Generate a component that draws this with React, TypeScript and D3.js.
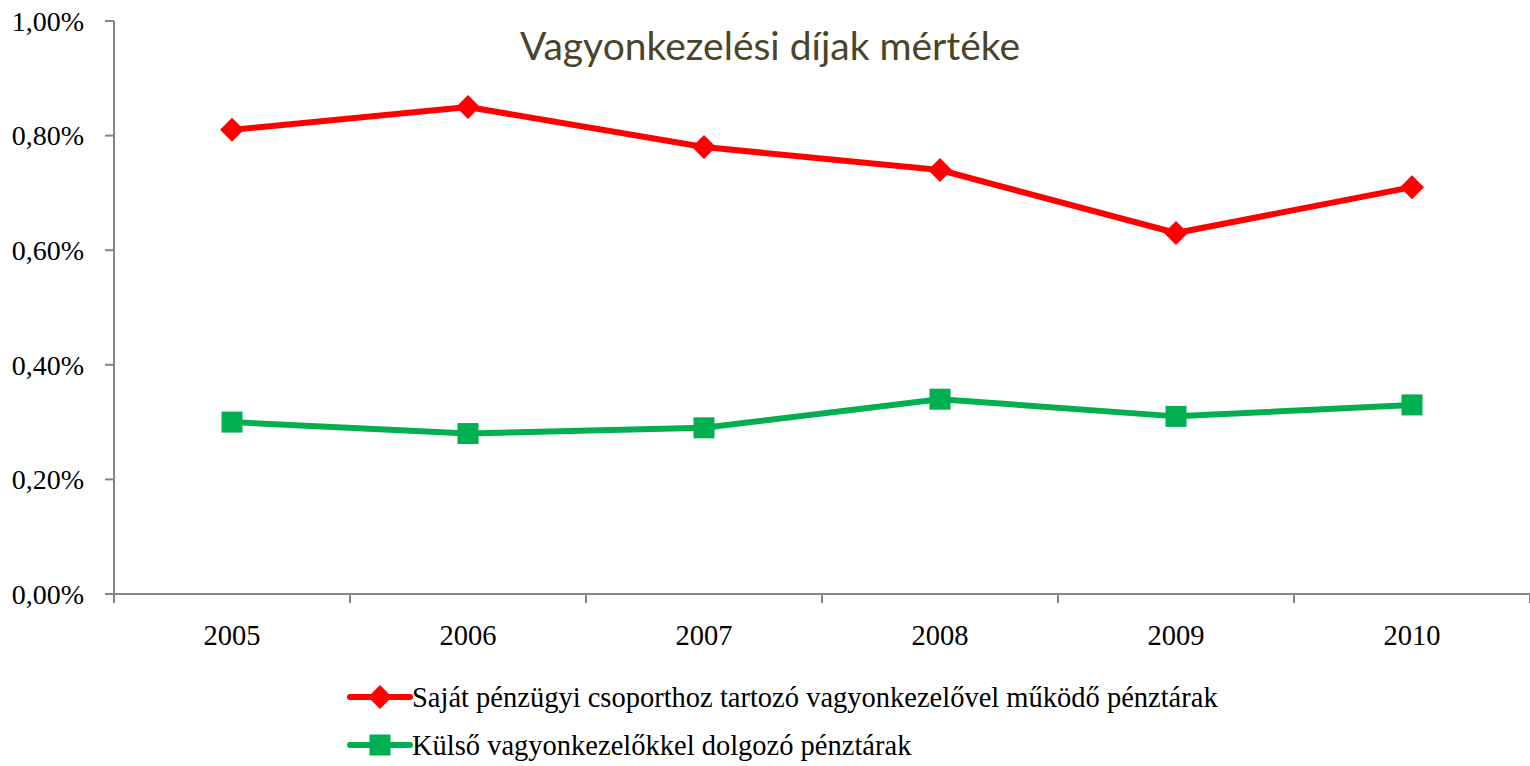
import React from "react";
import * as d3 from "d3";

const years = ["2005", "2006", "2007", "2008", "2009", "2010"];
const sajat = [0.81, 0.85, 0.78, 0.74, 0.63, 0.71];
const kulso = [0.30, 0.28, 0.29, 0.34, 0.31, 0.33];
const yTicks = [0, 0.2, 0.4, 0.6, 0.8, 1.0];
const seriesNames = [
  "Saját pénzügyi csoporthoz tartozó vagyonkezelővel működő pénztárak",
  "Külső vagyonkezelőkkel dolgozó pénztárak",
];
const title = "Vagyonkezelési díjak mértéke";

const W = 1530, H = 766;
const left = 114, right = 1530, top = 21, bottom = 594;
const RED = "#FF0000", GREEN = "#00B050";

export default function App() {
  const x = d3.scaleBand<string>().domain(years).range([left, right]);
  const y = d3.scaleLinear().domain([0, 1]).range([bottom, top]);
  const line = d3
    .line<number>()
    .x((_, i) => (x(years[i]) as number) + x.bandwidth() / 2)
    .y((d) => y(d));
  const fmt = (v: number) => v.toFixed(2).replace(".", ",") + "%";
  const diamond = (cx: number, cy: number, r: number) =>
    `M${cx},${cy - r}L${cx + r},${cy}L${cx},${cy + r}L${cx - r},${cy}Z`;
  const serif = "'Liberation Serif', 'Times New Roman', serif";
  const boundaries = d3.range(years.length + 1).map((i) => left + i * x.step());

  return (
    <svg width={W} height={H} style={{ position: "absolute", left: 0, top: 0 }}>
      <rect width={W} height={H} fill="#fff" />
      {/* y axis */}
      <line x1={left} x2={left} y1={top} y2={bottom + 9} stroke="#868686" strokeWidth={2} />
      {yTicks.map((t) => (
        <g key={t}>
          <line x1={left - 9} x2={left} y1={y(t)} y2={y(t)} stroke="#868686" strokeWidth={2} />
          <text x={84} y={y(t)} dy="0.35em" textAnchor="end" fontFamily={serif} fontSize={28} fill="#000">
            {fmt(t)}
          </text>
        </g>
      ))}
      {/* x axis */}
      <line x1={left} x2={right} y1={bottom} y2={bottom} stroke="#868686" strokeWidth={2} />
      {boundaries.map((b, i) => (
        <line key={i} x1={b} x2={b} y1={bottom} y2={bottom + 9} stroke="#868686" strokeWidth={2} />
      ))}
      {years.map((yr) => (
        <text key={yr} x={(x(yr) as number) + x.bandwidth() / 2} y={645} textAnchor="middle" fontFamily={serif} fontSize={28.5} fill="#000">
          {yr}
        </text>
      ))}
      {/* title */}
      <text x={770} y={60} textAnchor="middle" fontFamily="Lato, 'Open Sans', sans-serif" fontSize={39} fill="#4A452A">
        {title}
      </text>
      {/* lines */}
      <path d={line(sajat) || ""} fill="none" stroke={RED} strokeWidth={6} strokeLinejoin="round" />
      <path d={line(kulso) || ""} fill="none" stroke={GREEN} strokeWidth={6} strokeLinejoin="round" />
      {sajat.map((v, i) => (
        <path key={i} d={diamond((x(years[i]) as number) + x.bandwidth() / 2, y(v), 12)} fill={RED} />
      ))}
      {kulso.map((v, i) => (
        <rect key={i} x={(x(years[i]) as number) + x.bandwidth() / 2 - 10.5} y={y(v) - 10.5} width={21} height={21} fill={GREEN} />
      ))}
      {/* legend */}
      <g>
        <line x1={350} x2={410} y1={697} y2={697} stroke={RED} strokeWidth={6} strokeLinecap="round" />
        <path d={diamond(380, 697, 12)} fill={RED} />
        <text x={412} y={697} dy="0.35em" fontFamily={serif} fontSize={28.5} fill="#000">{seriesNames[0]}</text>
        <line x1={350} x2={410} y1={745} y2={745} stroke={GREEN} strokeWidth={6} strokeLinecap="round" />
        <rect x={369.5} y={734.5} width={21} height={21} fill={GREEN} />
        <text x={412} y={745} dy="0.35em" fontFamily={serif} fontSize={28.5} fill="#000">{seriesNames[1]}</text>
      </g>
    </svg>
  );
}
